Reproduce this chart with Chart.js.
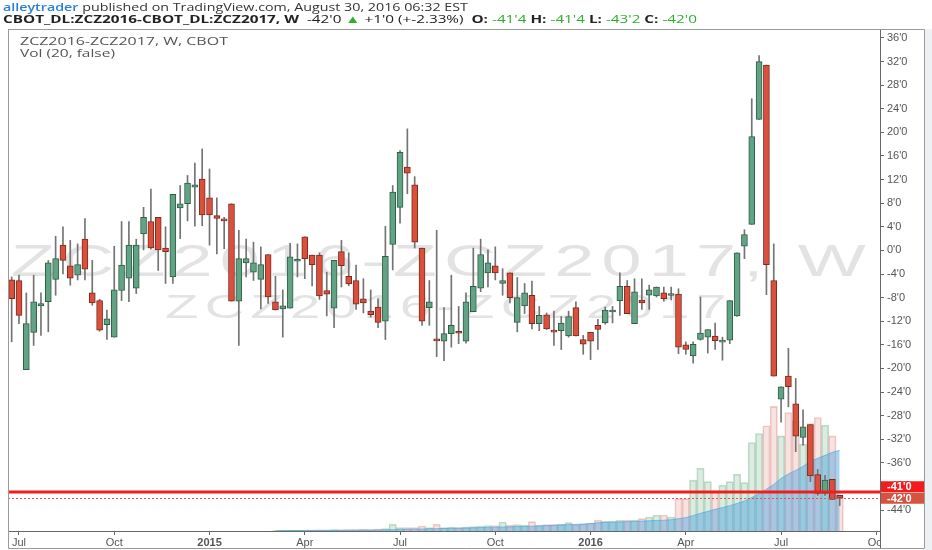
<!DOCTYPE html>
<html>
<head>
<meta charset="utf-8">
<script src="https://cdn.jsdelivr.net/npm/chart.js@4.4.1/dist/chart.umd.min.js"></script>
<style>
  html, body { margin: 0; padding: 0; background: #fff; }
  #wrap { position: relative; width: 932px; height: 550px; overflow: hidden; font-family: "Open Sans", "Liberation Sans", sans-serif; }
  #chart { position: absolute; left: 0; top: 0; }
  #side { position: absolute; left: 925px; top: 29px; width: 7px; height: 521px; background: #eef1f4; }
  .txt { position: absolute; font-size: 11px; line-height: 11px; white-space: nowrap; transform-origin: 0 0; z-index: 2; }
  .hdr1 { left: 3px; top: 1px; color: #333; }
  .hdr1 .user { color: #2a80d6; font-weight: 600; }
  .hdr2 { left: 3px; top: 12.5px; color: #222; }
  .hdr2 b { font-weight: 700; }
  .hdr2 .up { color: #2fae2f; }
  .legend { left: 20px; color: #555; }
</style>
</head>
<body>
<div id="wrap">
  <div id="side"></div>
  <canvas id="chart" width="932" height="550"></canvas>
  <div class="txt hdr1" data-w="465"><span class="user">alleytrader</span> published on TradingView.com, August 30, 2016 06:32 EST</div>
  <div class="txt hdr2" data-w="694"><b>CBOT_DL:ZCZ2016-CBOT_DL:ZCZ2017, W</b>&nbsp; -42'0 <span class="up">&#9650;</span> +1'0 (+-2.33%) &nbsp;<b>O:</b> <span class="up">-41'4</span> <b>H:</b> <span class="up">-41'4</span> <b>L:</b> <span class="up">-43'2</span> <b>C:</b> <span class="up">-42'0</span></div>
  <div class="txt legend" style="top:35.2px" data-w="208">ZCZ2016-ZCZ2017, W, CBOT</div>
  <div class="txt legend" style="top:47px" data-w="95">Vol (20, false)</div>
</div>
<script>
// the published picture is stretched sideways, so texts are widened to the widths seen there
document.querySelectorAll('.txt').forEach(el => {
  const w = el.getBoundingClientRect().width;
  el.style.transform = 'scaleX(' + (Number(el.dataset.w) / w).toFixed(3) + ')';
});

// weekly bars, Monday dates, first bar 2014-06-30 (last 5 slots are empty right margin)
const weeks = [];
for (let d = new Date(Date.UTC(2014, 5, 30)); weeks.length < 119; d.setUTCDate(d.getUTCDate() + 7)) {
  weeks.push(d.toISOString().slice(0, 10));
}

const monthTicks = ['2014-07-07', '2014-10-06', '2015-01-05', '2015-04-06', '2015-07-06',
  '2015-10-05', '2016-01-04', '2016-04-04', '2016-07-04', '2016-10-03'];
const monthLabels = ['Jul', 'Oct', '2015', 'Apr', 'Jul', 'Oct', '2016', 'Apr', 'Jul', 'Oct'];

// spread prices in cents (CBOT eighths shown as 'x)
const opens = [
  -5.0, -5.1, -20.2, -13.9, -9.4, -8.7, -4.9, 0.9, -2.6, -4.2,
  1.9, -7.2, -8.5, -12.6, -14.7, -6.8, -4.7, -6.4, 2.8, 4.9,
  5.6, 0.4, -4.5, 7.2, 7.9, 10.7, 12.1, 8.9, 5.9, 5.1,
  7.9, -8.6, -2.1, -3.7, -4.9, -0.7, -8.7, -9.9, -9.8, -1.6,
  2.3, -0.8, -0.8, -6.8, -9.8, -0.2, -4.4, -5.1, -8.2, -10.3,
  -9.6, -12.0, 1.0, 7.3, 14.1, 11.1, 0.4, -9.7, -15.0, -15.4,
  -14.1, -13.7, -15.4, -10.4, -6.4, -3.8, -2.6, -5.6, -3.8, -12.2,
  -9.4, -7.6, -12.4, -10.9, -13.5, -13.6, -14.5, -9.7, -15.1, -13.9,
  -12.7, -12.3, -10.2, -8.5, -6.1, -12.4, -8.4, -7.6, -7.7, -7.2,
  -7.3, -7.4, -16.0, -17.9, -15.1, -14.7, -14.5, -15.2, -15.2, -11.1,
  0.7, 4.4, 22.2, 31.4, -5.1, -25.2, -21.3, -26.0, -31.7, -29.5,
  -38.0, -41.2, -38.8, -41.5
];
const highs = [
  -4.5, -4.2, -7.2, -4.2, -7.2, -1.7, 2.4, 4.0, 1.7, 1.1,
  5.4, -1.7, -8.3, -10.1, 0.7, 4.9, 4.9, 1.9, 7.3, 10.4,
  5.6, 4.0, 9.5, 11.0, 12.7, 14.8, 17.2, 13.8, 8.9, 5.6,
  7.9, 3.4, 1.9, 1.4, 0.6, -0.7, -4.4, -6.7, 1.2, 1.1,
  2.3, -0.8, -0.4, -3.7, -1.7, 1.7, -0.4, -2.5, -4.8, -6.7,
  -8.2, 4.1, 11.0, 16.9, 20.6, 12.5, 0.4, -5.1, 3.4, -9.7,
  -4.2, -9.5, -7.2, 0.4, 1.9, 0.1, 0.6, -3.1, -3.8, -4.6,
  -5.6, -5.2, -9.5, -10.6, -10.3, -11.2, -10.3, -8.7, -14.4, -13.9,
  -11.7, -9.6, -9.5, -3.8, -5.1, -4.8, -4.8, -5.9, -6.2, -6.2,
  -6.2, -6.5, -15.5, -15.5, -7.9, -13.4, -12.3, -14.7, -8.5, -0.4,
  3.5, 25.7, 33.0, 31.4, 1.1, -23.1, -16.6, -21.7, -27.0, -29.5,
  -37.1, -38.1, -38.8, -41.5
];
const lows = [
  -15.5, -12.4, -20.2, -16.1, -14.4, -13.8, -7.6, -4.0, -5.9, -5.0,
  -5.0, -9.3, -13.7, -15.1, -14.7, -8.5, -8.7, -7.3, 0.0, 0.2,
  -3.4, -5.6, -5.6, 2.0, 5.0, 4.1, 4.2, 0.9, -0.6, 0.3,
  -8.6, -16.1, -4.5, -5.1, -9.9, -9.0, -10.1, -14.7, -9.8, -4.5,
  -4.8, -6.0, -8.3, -11.1, -13.1, -6.2, -6.0, -10.0, -10.6, -11.3,
  -13.1, -15.1, -3.3, 4.6, 9.6, 0.4, -12.7, -12.7, -18.0, -18.7,
  -16.4, -15.8, -15.7, -10.4, -7.0, -6.2, -5.0, -7.6, -8.9, -13.8,
  -10.7, -13.3, -13.6, -13.4, -16.1, -16.8, -14.7, -14.5, -17.6, -18.5,
  -16.8, -12.5, -12.3, -11.0, -10.7, -12.4, -10.0, -10.0, -7.9, -8.6,
  -8.4, -17.5, -17.6, -19.1, -15.2, -17.4, -16.8, -18.6, -15.8, -11.2,
  -1.4, 4.4, 22.2, -7.5, -21.3, -29.1, -26.5, -34.1, -33.0, -39.2,
  -41.5, -41.5, -42.2, -43.25
];
const closes = [
  -8.2, -11.0, -12.4, -8.7, -9.0, -2.1, -1.4, -1.7, -4.7, -2.4,
  -3.2, -8.9, -13.5, -11.6, -6.7, -2.5, 0.9, 0.9, 5.6, 0.4,
  0.1, -0.2, 9.5, 7.9, 11.4, 11.1, 6.0, 6.0, 5.4, 5.0,
  -8.6, -1.4, -1.4, -2.1, -2.4, -7.9, -10.1, -9.4, -1.1, -1.5,
  -1.4, -2.4, -7.7, -7.4, -1.7, -2.6, -5.7, -9.1, -8.9, -10.9,
  -12.2, -1.0, 9.9, 16.6, 13.1, 1.4, -12.0, -8.7, -15.1, -14.1,
  -12.7, -13.8, -8.7, -6.1, -0.7, -2.1, -3.8, -5.1, -8.0, -8.0,
  -7.2, -12.4, -11.0, -13.3, -13.6, -12.3, -11.2, -14.5, -15.9, -15.4,
  -13.4, -10.1, -10.1, -6.1, -10.7, -7.0, -8.9, -6.7, -6.2, -8.2,
  -7.3, -16.4, -16.8, -15.9, -14.0, -13.4, -15.3, -15.2, -8.5, -0.4,
  2.7, 19.3, 32.0, -2.4, -21.3, -23.1, -23.1, -31.5, -29.9, -38.2,
  -41.2, -38.9, -42.2, -42.0
];

const volumes = [
  null, null, null, null, null, null, null, null, null, null,
  null, null, null, null, null, null, null, null, null, null,
  null, null, null, null, null, null, null, null, null, null,
  null, null, null, null, null, null, 10, 12, 16, 14,
  20, 16, 24, 20, 30, 24, 30, 26, 36, 30,
  40, 50, 134, 66, 66, 66, 100, 66, 134, 70,
  80, 70, 80, 90, 100, 110, 110, 180, 120, 130,
  120, 186, 120, 130, 130, 140, 166, 130, 140, 160,
  214, 200, 200, 214, 220, 220, 246, 280, 320, 320,
  280, 646, 646, 1014, 1254, 986, 800, 914, 986, 1134,
  966, 1766, 1946, 2100, 2486, 1900, 2366, 2200, 1734, 2146,
  2266, 2114, 1900, 700
];
const volumeMA = [
  null, null, null, null, null, null, null, null, null, null,
  null, null, null, null, null, null, null, null, null, null,
  null, null, null, null, null, null, null, null, null, null,
  null, null, null, null, null, null, 6, 7, 8, 9,
  10, 11, 12, 13, 14, 15, 16, 17, 18, 20,
  22, 24, 27, 30, 33, 36, 40, 43, 47, 50,
  54, 57, 60, 64, 68, 72, 76, 80, 84, 88,
  92, 97, 102, 108, 114, 120, 126, 132, 140, 148,
  164, 170, 176, 180, 186, 192, 198, 204, 210, 214,
  226, 246, 266, 310, 352, 392, 432, 468, 506, 550,
  596, 670, 740, 834, 930, 1050, 1140, 1210, 1290, 1390,
  1450, 1510, 1570, 1610
];

const alertLevel = -41;            // horizontal line drawn on the chart
const wmTitle = 'ZCZ2016-ZCZ2017, W';
const wmSub = 'ZCZ2016-ZCZ2017';

const GREEN = '#62a385', GREEN_EDGE = '#2f5e45';
const RED = '#d9503c', RED_EDGE = '#7d2a1e';
const up = opens.map((o, i) => closes[i] >= o);

const fmt = v => {
  const whole = Math.trunc(v);
  const eighths = Math.round(Math.abs(v - whole) * 8);
  const sign = v < 0 && whole === 0 ? '-' : '';
  return sign + whole + "'" + eighths;
};

const tickAt = new Map(monthTicks.map((d, i) => [weeks.indexOf(d), monthLabels[i]]));

const watermark = {
  id: 'watermark',
  beforeDatasetsDraw(chart) {
    const { ctx } = chart;
    ctx.save();
    ctx.fillStyle = '#e3e3e3';
    ctx.textBaseline = 'alphabetic';
    ctx.font = '45px "Liberation Sans", Arial, sans-serif';
    ctx.letterSpacing = '4.5px';
    ctx.translate(11, 276);
    ctx.scale(1.6, 1);
    ctx.fillText(wmTitle, 0, 0);
    ctx.restore();
    ctx.save();
    ctx.fillStyle = '#e3e3e3';
    ctx.font = '34px "Liberation Sans", Arial, sans-serif';
    ctx.letterSpacing = '4px';
    ctx.translate(165, 318);
    ctx.scale(1.6, 1);
    ctx.fillText(wmSub, 0, 0);
    ctx.restore();
  }
};

const priceLines = {
  id: 'priceLines',
  afterDatasetsDraw(chart) {
    const { ctx, chartArea } = chart;
    const y = chart.scales.y;
    const yAlert = Math.round(y.getPixelForValue(alertLevel));
    const yLast = Math.round(y.getPixelForValue(closes[closes.length - 1])) + 0.5;
    ctx.save();
    ctx.strokeStyle = '#f21c1c';
    ctx.lineWidth = 3;
    ctx.beginPath();
    ctx.moveTo(chartArea.left, yAlert);
    ctx.lineTo(chartArea.right, yAlert);
    ctx.stroke();
    ctx.strokeStyle = '#e0574a';
    ctx.lineWidth = 1;
    ctx.setLineDash([2, 2]);
    ctx.beginPath();
    ctx.moveTo(chartArea.left, yLast);
    ctx.lineTo(chartArea.right, yLast);
    ctx.stroke();
    ctx.restore();
  },
  afterDraw(chart) {
    const { ctx, chartArea } = chart;
    const y = chart.scales.y;
    const last = closes[closes.length - 1];
    const yLast = y.getPixelForValue(last);
    const h = 11;
    const x0 = chartArea.right + 1, w = 44;
    ctx.save();
    // time labels stop at the price axis (the last one is cut, as in TradingView)
    ctx.fillStyle = '#fff';
    ctx.fillRect(x0, chartArea.bottom + 1, w, 16);
    // last price badge
    ctx.fillStyle = up[up.length - 1] ? GREEN : '#d6533f';
    ctx.fillRect(x0, yLast - h / 2, w, h);
    // alert badge, pushed up so both stay readable
    const yA = Math.min(y.getPixelForValue(alertLevel), yLast - h);
    ctx.fillStyle = '#f21c1c';
    ctx.fillRect(x0, yA - h / 2 - 0.5, w, h);
    ctx.fillStyle = '#fff';
    ctx.font = 'bold 11px "Liberation Sans", Arial, sans-serif';
    ctx.textBaseline = 'middle';
    ctx.fillText(fmt(alertLevel), x0 + 6, yA);
    ctx.fillText(fmt(last), x0 + 6, yLast + 0.5);

    // frame round the chart panel
    ctx.strokeStyle = '#9a9a9a';
    ctx.lineWidth = 1;
    ctx.beginPath();
    ctx.moveTo(8.5, 29); ctx.lineTo(8.5, 548.5); ctx.lineTo(924.5, 548.5); ctx.lineTo(924.5, 29.5);
    ctx.lineTo(8, 29.5);
    ctx.stroke();
    ctx.strokeStyle = '#666';
    ctx.beginPath();
    ctx.moveTo(chartArea.right + 0.5, chartArea.bottom); ctx.lineTo(chartArea.right + 0.5, 548);
    ctx.stroke();
    ctx.restore();
  }
};

Chart.defaults.font.family = '"Liberation Sans", Arial, sans-serif';

new Chart(document.getElementById('chart'), {
  data: {
    labels: weeks,
    datasets: [
      {
        type: 'bar',
        label: 'body',
        data: opens.map((o, i) => [o, closes[i]]),
        backgroundColor: up.map(u => u ? GREEN : RED),
        borderColor: up.map(u => u ? GREEN_EDGE : RED_EDGE),
        borderWidth: 1,
        borderSkipped: false,
        barThickness: 6,
        minBarLength: 2,
        grouped: false,
        yAxisID: 'y',
        order: 0
      },
      {
        type: 'bar',
        label: 'wick',
        data: lows.map((l, i) => [l, highs[i]]),
        backgroundColor: '#737373',
        barThickness: 1,
        grouped: false,
        yAxisID: 'y',
        order: 1
      },
      {
        type: 'line',
        label: 'Vol MA 20',
        data: volumeMA,
        yAxisID: 'yv',
        fill: 'origin',
        backgroundColor: 'rgba(70,160,225,0.45)',
        borderColor: 'rgba(70,160,225,0.6)',
        borderWidth: 1,
        pointRadius: 0,
        tension: 0,
        order: 2
      },
      {
        type: 'bar',
        label: 'Vol',
        data: volumes,
        yAxisID: 'yv',
        backgroundColor: up.map(u => u ? 'rgba(83,160,110,0.2)' : 'rgba(210,90,80,0.17)'),
        borderColor: up.map(u => u ? 'rgba(83,160,110,0.35)' : 'rgba(210,90,80,0.3)'),
        borderWidth: 1,
        barPercentage: 1,
        categoryPercentage: 1,
        grouped: false,
        order: 3
      }
    ]
  },
  options: {
    responsive: false,
    animation: false,
    devicePixelRatio: 1,
    layout: { padding: { left: 8, right: 8, top: 30, bottom: 2 } },
    plugins: { legend: { display: false }, tooltip: { enabled: false } },
    scales: {
      x: {
        type: 'category',
        offset: true,
        grid: {
          drawOnChartArea: false,
          drawTicks: true,
          tickLength: 4,
          offset: false,
          color: c => tickAt.has(c.index) ? '#666' : 'rgba(0,0,0,0)'
        },
        border: { display: true, color: '#666' },
        ticks: {
          autoSkip: false,
          maxRotation: 0,
          padding: 1,
          color: '#555',
          font: c => ({ size: 11, weight: /^\d{4}$/.test(tickAt.get(c.index) || '') ? 'bold' : 'normal' }),
          callback: (v, i) => tickAt.get(i) || ''
        },
        afterFit: s => { s.height = 17; }
      },
      y: {
        position: 'right',
        min: -47.55,
        max: 37.35,
        grid: { drawOnChartArea: false, tickLength: 4, color: '#666' },
        border: { display: true, color: '#666' },
        ticks: {
          stepSize: 4,
          includeBounds: false,
          padding: 3,
          color: '#555',
          font: { size: 11 },
          callback: v => v + "'0"
        },
        afterFit: s => { s.width = 44; }
      },
      yv: { display: false, min: 0, max: 10000 }
    }
  },
  plugins: [watermark, priceLines]
});
</script>
</body>
</html>
